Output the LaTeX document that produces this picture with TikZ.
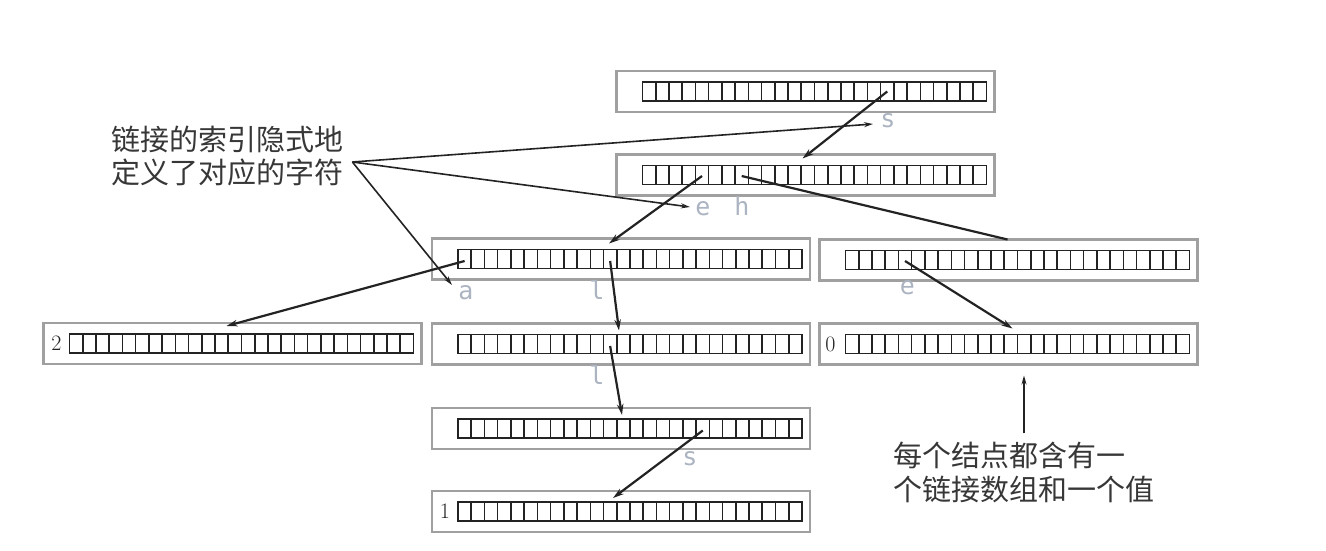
\documentclass[tikz,border=0pt]{standalone}
\usepackage{fontspec}
\newfontfamily\cjk{Noto Sans CJK SC}
\newfontfamily\monof{DejaVu Sans Mono}
\usetikzlibrary{calc,arrows.meta}
\definecolor{boxgray}{RGB}{160,160,160}
\definecolor{lblgray}{RGB}{172,180,194}
\definecolor{ink}{RGB}{35,35,35}
\definecolor{txt}{RGB}{55,55,55}
\newcommand\drawarray[1]{%
  \draw[cellline] ($(#1.west)+(26,-9.5)$) rectangle ($(#1.west)+(369.98,9.5)$);
  \foreach \i in {1,...,25} \draw[cellline] ($(#1.west)+(26+\i*13.23,-9.5)$) -- ++(0,19);
}
\tikzset{
  trienode/.style={draw=boxgray, line width=2.7pt, minimum width=378pt, minimum height=41pt, inner sep=0pt, outer sep=0pt, fill=white},
  cellline/.style={draw=ink, line width=1.6pt},
  link/.style={draw=ink, line width=2.2pt, -{Stealth[length=11pt,width=6.5pt]}},
  plainlink/.style={draw=ink, line width=2.2pt},
  note/.style={draw=ink, line width=1.6pt, -{Stealth[length=9pt,width=5pt]}},
  letter/.style={font=\monof\fontsize{25}{25}\selectfont, text=lblgray, inner sep=0pt, text height=1ex, text depth=0pt},
  val/.style={font=\fontsize{22}{22}\selectfont, text=ink, inner sep=0pt},
  cjktext/.style={font=\cjk\fontsize{29}{29}\selectfont, text=txt, inner sep=0pt, anchor=base west},
}
\begin{document}
\begin{tikzpicture}[x=1pt,y=-1pt]
\useasboundingbox (0,0) rectangle (1326,550);
% trie nodes
\node[trienode] (n0) at (805.5,91.5) {};
\node[trienode] (n1) at (805.5,175) {};
\node[trienode] (n2) at (621,259) {};
\node[trienode] (n3) at (1008.5,260) {};
\node[trienode] (n4) at (232.5,343.5) {};
\node[trienode] (n5) at (621,344) {};
\node[trienode] (n6) at (1008.5,344) {};
\node[trienode] (n7) at (621,428.5) {};
\node[trienode] (n8) at (621,511.5) {};
\foreach \n in {n0,n1,n2,n3,n4,n5,n6,n7,n8} {\drawarray{\n}}
% values
\node[val] (v4) at ($(n4.west)+(13,0)$) {2};
\node[val] (v6) at ($(n6.west)+(11,0)$) {0};
\node[val] (v8) at ($(n8.west)+(13,0)$) {1};
% cell start points
\coordinate (c0s) at ($(n0.west)+(26+18.5*13.23,0)$);
\coordinate (c1e) at ($(n1.west)+(26+4.5*13.23,1)$);
\coordinate (c1h) at ($(n1.west)+(26+7.5*13.23,1)$);
\coordinate (c2a) at ($(n2.west)+(26+0.5*13.23,2)$);
\coordinate (c2l) at ($(n2.west)+(26+11.5*13.23,2)$);
\coordinate (c5l) at ($(n5.west)+(26+11.5*13.23,2)$);
\coordinate (c7s) at ($(n7.west)+(26+18.5*13.23,2)$);
\coordinate (c3e) at ($(n3.west)+(26+4.5*13.23,1)$);
% links
\draw[link] (c0s) -- ($(n1.north west)+(186,4)$);
\draw[link] (c1e) -- ($(n2.north west)+(177,5)$);
\draw[plainlink] (c1h) -- ($(n3.north west)+(188,0)$);
\draw[link] (c2a) -- ($(n4.north west)+(183,3)$);
\draw[link] (c2l) -- ($(n5.north west)+(187,7)$);
\draw[link] (c5l) -- ($(n7.north west)+(190,7)$);
\draw[link] (c7s) -- ($(n8.north west)+(181,7)$);
\draw[link] (c3e) -- ($(n6.north west)+(193,5)$);
% letter labels
\node[letter] (ls0) at (888,125.5) {s};
\node[letter] (le1) at (703,213) {e};
\node[letter] (lh1) at (742,213) {h};
\node[letter] (la2) at (466,297) {a};
\node[letter] (ll2) at (597,297) {l};
\node[letter] (le3) at (907.5,292) {e};
\node[letter] (ll5) at (597,382) {l};
\node[letter] (ls7) at (690,463) {s};
% annotations
\node[cjktext] (t1a) at (111,150) {链接的索引隐式地};
\node[cjktext] (t1b) at (111,183) {定义了对应的字符};
\node[cjktext] (t2a) at (893,466) {每个结点都含有一};
\node[cjktext] (t2b) at (893,500) {个链接数组和一个值};
\coordinate (p1) at ($(t1b.base east)+(9,-21)$);
\draw[note] (p1) -- ($(ls0)+(-15,-1.5)$);
\draw[note] (p1) -- ($(le1)+(-13,-6)$);
\draw[note] (p1) -- ($(la2)+(-14,-12)$);
\coordinate (p2) at ($(t2a.north west)+(131,-8)$);
\draw[note] (p2) -- ($(n6.south west)+(204.5,11)$);
\end{tikzpicture}
\end{document}
